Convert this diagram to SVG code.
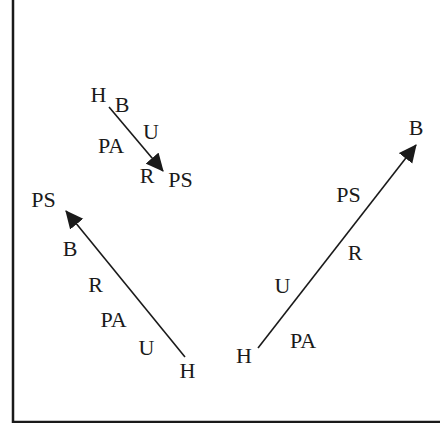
<svg xmlns="http://www.w3.org/2000/svg" width="440" height="423" viewBox="0 0 440 423">
  <style>
    .lbl { font-family: "Liberation Serif", "Times New Roman", serif; font-size: 22px; fill: #1a1a1a; text-anchor: middle; }
    .edge { stroke: #1a1a1a; stroke-width: 1.6; fill: none; marker-end: url(#head); }
    .frame { stroke: #1a1a1a; stroke-width: 2.5; fill: none; }
  </style>
  <defs>
    <marker id="head" markerUnits="userSpaceOnUse" markerWidth="18" markerHeight="18" viewBox="0 0 17 16" refX="16" refY="8" orient="auto">
      <path d="M0,0 L17,8 L0,16 z" fill="#1a1a1a"/>
    </marker>
  </defs>
  <rect width="440" height="423" fill="#ffffff"/>
  <g id="frame">
    <path class="frame" d="M13,0 V422 H440"/>
  </g>
  <g id="connectors">
    <line class="edge" x1="109" y1="107" x2="163" y2="171"/>
    <line class="edge" x1="185" y1="357" x2="66" y2="211"/>
    <line class="edge" x1="258" y1="348" x2="416" y2="145"/>
  </g>
  <g id="small-group">
    <text class="lbl" x="98.5" y="102">H</text>
    <text class="lbl" x="122" y="112">B</text>
    <text class="lbl" x="151" y="139">U</text>
    <text class="lbl" x="111" y="153">PA</text>
    <text class="lbl" x="147" y="183">R</text>
    <text class="lbl" x="180.5" y="187">PS</text>
  </g>
  <g id="left-group">
    <text class="lbl" x="43.5" y="207">PS</text>
    <text class="lbl" x="70" y="256">B</text>
    <text class="lbl" x="95.5" y="292">R</text>
    <text class="lbl" x="113.5" y="327">PA</text>
    <text class="lbl" x="146.5" y="355">U</text>
    <text class="lbl" x="187.5" y="378">H</text>
  </g>
  <g id="right-group">
    <text class="lbl" x="416" y="135">B</text>
    <text class="lbl" x="348.5" y="202">PS</text>
    <text class="lbl" x="355" y="260">R</text>
    <text class="lbl" x="282.5" y="293">U</text>
    <text class="lbl" x="303" y="348">PA</text>
    <text class="lbl" x="244" y="363">H</text>
  </g>
</svg>
